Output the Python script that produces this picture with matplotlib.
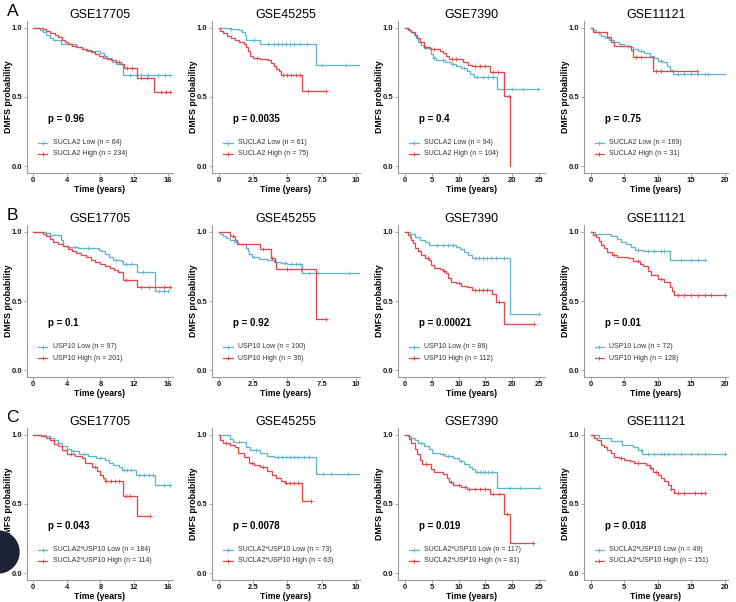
import numpy as np
import matplotlib
matplotlib.use("Agg")
import matplotlib.pyplot as plt
from matplotlib.patches import Ellipse

plt.rcParams['font.family'] = ['Liberation Sans', 'DejaVu Sans']

LOW_COLOR = '#5fb6cc'
HIGH_COLOR = '#e2474c'

# ---- panel text ----
datasets = ['GSE17705', 'GSE45255', 'GSE7390', 'GSE11121']
row_letters = ['A', 'B', 'C']
genes = ['SUCLA2', 'USP10', 'SUCLA2*USP10']
n_low = [[64, 61, 94, 169], [97, 100, 86, 72], [184, 73, 117, 49]]
n_high = [[234, 75, 104, 31], [201, 36, 112, 128], [114, 63, 81, 151]]
p_values = [['0.96', '0.0035', '0.4', '0.75'],
            ['0.1', '0.92', '0.00021', '0.01'],
            ['0.043', '0.0078', '0.019', '0.018']]
x_ticks = [[0, 4, 8, 12, 16], [0, 2.5, 5, 7.5, 10], [0, 5, 10, 15, 20, 25], [0, 5, 10, 15, 20]]
x_tick_labels = [['0', '4', '8', '12', '16'], ['0', '2.5', '5', '7.5', '10'],
                 ['0', '5', '10', '15', '20', '25'], ['0', '5', '10', '15', '20']]
x_limits = [(-0.7, 16.6), (-0.5, 10.3), (-1.3, 26.1), (-1.0, 20.5)]

# ---- KM steps: (time, survival after that time) ----
# row A: SUCLA2
a1_low = [(0, 1.0), (0.8, 0.985), (1.2, 0.97), (1.6, 0.95), (2.0, 0.93), (2.4, 0.91), (3.3, 0.885),
          (5.1, 0.865), (5.8, 0.85), (6.3, 0.83), (7.9, 0.82), (8.4, 0.80), (8.8, 0.78), (9.4, 0.755),
          (9.9, 0.74), (10.7, 0.66), (16.3, 0.66)]
a1_high = [(0, 1.0), (1.2, 0.99), (1.6, 0.975), (2.0, 0.96), (2.6, 0.95), (3.0, 0.935), (3.4, 0.915),
           (3.8, 0.90), (4.2, 0.885), (4.6, 0.87), (5.2, 0.86), (5.8, 0.85), (6.4, 0.84), (6.9, 0.825),
           (7.4, 0.81), (7.8, 0.795), (8.3, 0.785), (8.8, 0.775), (9.3, 0.765), (9.8, 0.75), (10.4, 0.74),
           (10.8, 0.71), (12.3, 0.64), (14.4, 0.535), (16.3, 0.535)]
a2_low = [(0, 1.0), (0.8, 0.995), (1.5, 0.985), (1.7, 0.97), (1.9, 0.95), (2.0, 0.915), (3.0, 0.88),
          (7.1, 0.73), (10.5, 0.73)]
a2_high = [(0, 1.0), (0.1, 0.975), (0.3, 0.96), (0.6, 0.945), (0.9, 0.93), (1.2, 0.915), (1.5, 0.895),
           (1.8, 0.88), (2.0, 0.86), (2.1, 0.83), (2.3, 0.80), (2.5, 0.78), (3.0, 0.775), (3.6, 0.765),
           (3.8, 0.745), (4.0, 0.725), (4.2, 0.705), (4.4, 0.685), (4.5, 0.66), (6.1, 0.545), (7.8, 0.545)]
a3_low = [(0, 1.0), (0.8, 0.985), (1.2, 0.97), (1.6, 0.95), (2.0, 0.93), (2.5, 0.90), (3.0, 0.875),
          (3.5, 0.855), (4.8, 0.81), (5.2, 0.785), (5.8, 0.77), (7.5, 0.755), (8.5, 0.74), (9.5, 0.725),
          (10.5, 0.71), (11.5, 0.69), (12.2, 0.67), (12.8, 0.645), (17.2, 0.56), (25.0, 0.56)]
a3_high = [(0, 1.0), (0.6, 0.985), (1.2, 0.97), (1.8, 0.95), (2.3, 0.925), (2.8, 0.895), (3.5, 0.865),
           (4.6, 0.85), (6.6, 0.835), (7.0, 0.82), (7.7, 0.80), (8.2, 0.775), (10.8, 0.755), (11.8, 0.735),
           (12.4, 0.725), (15.9, 0.68), (18.5, 0.51), (19.6, 0.0)]
a4_low = [(0, 1.0), (0.4, 0.985), (0.8, 0.97), (1.2, 0.955), (1.6, 0.94), (2.2, 0.925), (2.8, 0.915),
          (3.5, 0.90), (4.2, 0.885), (5.0, 0.87), (5.8, 0.86), (6.3, 0.845), (7.0, 0.83), (8.0, 0.82),
          (8.8, 0.80), (9.4, 0.78), (10.0, 0.76), (10.8, 0.75), (11.4, 0.725), (11.9, 0.695),
          (12.3, 0.665), (20.0, 0.665)]
a4_high = [(0, 1.0), (0.3, 0.97), (2.5, 0.935), (3.1, 0.90), (3.5, 0.87), (6.0, 0.84), (6.3, 0.79),
           (9.3, 0.69), (15.9, 0.69)]

# row B: USP10
b1_low = [(0, 1.0), (1.5, 0.99), (2.0, 0.98), (3.3, 0.94), (3.6, 0.90), (4.2, 0.89), (5.3, 0.88),
          (7.8, 0.87), (8.1, 0.86), (8.5, 0.84), (9.0, 0.82), (9.5, 0.80), (10.4, 0.79), (10.7, 0.77),
          (12.3, 0.71), (14.5, 0.575), (16.0, 0.575)]
b1_high = [(0, 1.0), (1.2, 0.985), (1.6, 0.97), (2.0, 0.95), (2.4, 0.93), (3.0, 0.915), (3.6, 0.895),
           (4.1, 0.875), (4.6, 0.86), (5.1, 0.845), (5.7, 0.83), (6.3, 0.815), (6.9, 0.80), (7.4, 0.785),
           (8.0, 0.77), (8.6, 0.755), (9.1, 0.74), (9.6, 0.725), (10.1, 0.71), (10.7, 0.65), (12.3, 0.60),
           (16.3, 0.60)]
b2_low = [(0, 1.0), (0.1, 0.985), (0.3, 0.97), (0.5, 0.955), (0.8, 0.94), (1.1, 0.925), (1.4, 0.91),
          (2.0, 0.88), (2.1, 0.86), (2.2, 0.84), (2.4, 0.82), (2.9, 0.805), (3.5, 0.795), (4.0, 0.785),
          (4.5, 0.775), (5.0, 0.765), (6.1, 0.70), (10.5, 0.70)]
b2_high = [(0, 1.0), (0.8, 0.97), (1.2, 0.94), (1.3, 0.91), (3.0, 0.875), (3.8, 0.81), (4.1, 0.78),
           (4.2, 0.735), (7.1, 0.37), (7.8, 0.37)]
b3_low = [(0, 1.0), (1.0, 0.985), (1.8, 0.965), (2.8, 0.945), (3.8, 0.925), (4.5, 0.905), (9.5, 0.89),
          (10.2, 0.875), (11.0, 0.855), (11.8, 0.835), (12.5, 0.81), (19.6, 0.405), (25.0, 0.405)]
b3_high = [(0, 1.0), (0.5, 0.98), (0.9, 0.96), (1.2, 0.94), (1.5, 0.92), (1.8, 0.885), (2.4, 0.86),
           (3.0, 0.835), (3.7, 0.81), (4.5, 0.80), (4.8, 0.76), (5.5, 0.74), (6.5, 0.73), (7.0, 0.72),
           (7.6, 0.70), (8.0, 0.665), (8.5, 0.64), (9.5, 0.63), (10.5, 0.61), (11.5, 0.60), (12.5, 0.58),
           (16.3, 0.55), (16.9, 0.49), (18.5, 0.33), (24.0, 0.33)]
b4_low = [(0, 1.0), (0.6, 0.985), (3.1, 0.97), (4.0, 0.95), (4.5, 0.93), (5.2, 0.91), (6.0, 0.89),
          (6.6, 0.87), (7.8, 0.86), (11.8, 0.80), (17.1, 0.80)]
b4_high = [(0, 1.0), (0.4, 0.98), (0.8, 0.96), (1.2, 0.935), (1.5, 0.905), (2.0, 0.88), (2.5, 0.855),
           (3.2, 0.83), (4.0, 0.82), (5.5, 0.81), (6.3, 0.79), (7.3, 0.77), (7.8, 0.75), (8.5, 0.72),
           (9.0, 0.69), (10.0, 0.66), (11.0, 0.64), (11.8, 0.60), (12.2, 0.57), (12.5, 0.545), (20.0, 0.545)]

# row C: SUCLA2*USP10
c1_low = [(0, 1.0), (1.5, 0.99), (2.0, 0.975), (2.5, 0.96), (3.0, 0.94), (3.5, 0.92), (4.0, 0.90),
          (4.5, 0.88), (5.5, 0.865), (6.5, 0.85), (7.5, 0.835), (8.5, 0.82), (9.0, 0.80), (9.5, 0.78),
          (10.2, 0.77), (10.5, 0.745), (12.2, 0.71), (14.5, 0.635), (16.3, 0.635)]
c1_high = [(0, 1.0), (1.0, 0.99), (1.5, 0.975), (2.0, 0.96), (2.5, 0.935), (3.0, 0.92), (3.5, 0.89),
           (4.0, 0.865), (5.0, 0.85), (5.8, 0.83), (6.2, 0.80), (7.0, 0.77), (7.6, 0.74), (8.0, 0.71),
           (8.3, 0.69), (8.5, 0.665), (10.7, 0.555), (12.3, 0.415), (13.9, 0.415)]
c2_low = [(0, 1.0), (0.8, 0.97), (1.0, 0.95), (2.0, 0.91), (2.3, 0.89), (3.0, 0.87), (3.5, 0.85),
          (4.0, 0.84), (7.1, 0.715), (10.5, 0.715)]
c2_high = [(0, 1.0), (0.1, 0.96), (0.3, 0.94), (0.8, 0.93), (1.2, 0.91), (1.4, 0.87), (1.8, 0.84),
           (2.2, 0.80), (2.6, 0.78), (3.0, 0.77), (3.5, 0.74), (3.9, 0.71), (4.2, 0.69), (4.5, 0.67),
           (4.8, 0.65), (6.1, 0.52), (6.7, 0.52)]
c3_low = [(0, 1.0), (0.5, 0.99), (1.2, 0.975), (1.8, 0.96), (2.5, 0.94), (3.5, 0.92), (4.5, 0.90),
          (5.0, 0.87), (6.5, 0.86), (7.5, 0.85), (9.0, 0.83), (10.0, 0.81), (11.0, 0.79), (12.0, 0.77),
          (12.5, 0.75), (13.0, 0.735), (17.1, 0.615), (25.0, 0.615)]
c3_high = [(0, 1.0), (0.8, 0.97), (1.2, 0.94), (1.8, 0.90), (2.2, 0.86), (2.8, 0.82), (3.2, 0.79),
           (4.8, 0.75), (5.5, 0.73), (7.0, 0.72), (7.8, 0.69), (8.2, 0.66), (9.0, 0.64), (10.5, 0.62),
           (11.5, 0.61), (15.8, 0.575), (18.5, 0.425), (19.6, 0.215), (23.9, 0.215)]
c4_low = [(0, 1.0), (1.2, 0.975), (3.0, 0.955), (4.7, 0.93), (6.3, 0.91), (7.0, 0.89), (7.7, 0.86),
          (20.0, 0.86)]
c4_high = [(0, 1.0), (0.5, 0.98), (1.0, 0.96), (1.5, 0.93), (2.0, 0.91), (2.5, 0.89), (3.0, 0.87),
           (3.5, 0.84), (4.2, 0.83), (5.0, 0.82), (5.8, 0.81), (6.5, 0.80), (8.0, 0.795), (8.3, 0.78),
           (8.8, 0.76), (9.3, 0.73), (10.0, 0.71), (10.5, 0.69), (11.0, 0.67), (11.5, 0.64), (12.0, 0.61),
           (12.5, 0.58), (17.0, 0.58)]

# censor times (years)
a1_low_cens = [8.6, 11.5, 12.8, 13.6, 14.8, 15.6, 16.3]
a1_high_cens = [10.2, 11.2, 11.8, 12.8, 13.5, 15.2, 15.8, 16.2]
a2_low_cens = [0.9, 2.6, 3.6, 4.0, 4.3, 4.6, 4.9, 5.2, 5.5, 5.9, 6.4, 7.5, 9.3]
a2_high_cens = [2.8, 4.7, 5.0, 5.3, 5.6, 5.9, 6.5, 7.8]
a3_low_cens = [5.5, 7.0, 9.0, 11.0, 13.5, 14.5, 15.5, 16.5, 18.5, 20.0, 22.0, 24.8]
a3_high_cens = [3.8, 5.5, 8.8, 9.5, 13.0, 14.0, 15.0, 16.5, 17.3, 19.3]
a4_low_cens = [5.5, 7.5, 10.5, 13.0, 14.0, 15.0, 16.0, 17.0, 17.5]
a4_high_cens = [6.8, 7.5, 9.8, 10.5, 15.9]
b1_low_cens = [5.0, 6.5, 9.8, 11.0, 11.6, 13.0, 15.0, 15.5, 16.0]
b1_high_cens = [11.0, 12.8, 13.8, 15.5, 16.3]
b2_low_cens = [2.6, 4.2, 4.8, 5.3, 5.6, 5.9, 6.6, 7.2, 9.5]
b2_high_cens = [1.0, 3.2, 3.9, 5.0, 6.0, 7.8]
b3_low_cens = [6.0, 7.0, 8.0, 9.0, 13.0, 13.8, 14.5, 15.2, 16.0, 17.0, 18.5, 25.0]
b3_high_cens = [4.2, 7.3, 10.0, 13.0, 13.8, 14.6, 15.2, 17.5, 24.0]
b4_low_cens = [7.0, 8.5, 9.5, 10.5, 11.0, 13.5, 15.0, 16.0, 17.1]
b4_high_cens = [3.5, 7.0, 10.5, 13.0, 14.0, 15.0, 16.0, 17.0, 18.0, 20.0]
c1_low_cens = [4.8, 6.0, 8.0, 10.8, 11.2, 11.6, 12.6, 13.2, 13.8, 14.2, 15.5, 16.3]
c1_high_cens = [4.5, 7.3, 8.7, 9.2, 9.7, 10.2, 11.0, 11.5, 13.9]
c2_low_cens = [1.5, 2.7, 4.3, 4.6, 4.9, 5.2, 5.5, 5.8, 6.2, 6.6, 7.6, 8.2, 9.4]
c2_high_cens = [0.5, 2.4, 3.2, 4.9, 5.2, 5.5, 5.8, 6.7]
c3_low_cens = [3.0, 7.0, 8.0, 10.5, 13.5, 14.0, 14.5, 15.0, 15.5, 16.2, 19.5, 21.5, 25.0]
c3_high_cens = [4.0, 8.5, 10.0, 11.2, 12.0, 13.0, 14.0, 15.0, 16.5, 17.5, 19.0, 23.9]
c4_low_cens = [7.5, 8.5, 9.5, 10.5, 11.0, 11.5, 12.5, 13.5, 15.0, 16.0, 17.0, 20.0]
c4_high_cens = [4.5, 7.0, 9.0, 9.8, 12.0, 13.0, 14.0, 15.5, 16.5, 17.0]

curves = [[(a1_low, a1_high), (a2_low, a2_high), (a3_low, a3_high), (a4_low, a4_high)],
          [(b1_low, b1_high), (b2_low, b2_high), (b3_low, b3_high), (b4_low, b4_high)],
          [(c1_low, c1_high), (c2_low, c2_high), (c3_low, c3_high), (c4_low, c4_high)]]
censors = [[(a1_low_cens, a1_high_cens), (a2_low_cens, a2_high_cens), (a3_low_cens, a3_high_cens), (a4_low_cens, a4_high_cens)],
           [(b1_low_cens, b1_high_cens), (b2_low_cens, b2_high_cens), (b3_low_cens, b3_high_cens), (b4_low_cens, b4_high_cens)],
           [(c1_low_cens, c1_high_cens), (c2_low_cens, c2_high_cens), (c3_low_cens, c3_high_cens), (c4_low_cens, c4_high_cens)]]

# layout in pixels of the 736x602 canvas
W, H = 736, 602
col_px = [(27, 173), (212, 360), (398, 545), (584, 728)]
row_px = [(21, 173), (225, 377), (428, 580)]


def draw_km(ax, steps, cens, color):
    t = np.array([p[0] for p in steps])
    s = np.array([p[1] for p in steps])
    ax.plot(t, s, drawstyle='steps-post', color=color, lw=0.95, solid_joinstyle='miter')
    ct = np.array(cens)
    idx = np.searchsorted(t, ct, side='right') - 1
    ax.plot(ct, s[idx], ls='none', marker='+', ms=3, mew=0.6, color=color)


fig = plt.figure(figsize=(W / 100, H / 100), dpi=100)

for r in range(3):
    top, bot = row_px[r]
    for c in range(4):
        left, right = col_px[c]
        ax = fig.add_axes([left / W, 1 - bot / H, (right - left) / W, (bot - top) / H])
        low, high = curves[r][c]
        low_c, high_c = censors[r][c]
        draw_km(ax, low, low_c, LOW_COLOR)
        draw_km(ax, high, high_c, HIGH_COLOR)

        ax.set_xlim(*x_limits[c])
        ax.set_ylim(-0.05, 1.05)
        ax.set_xticks(x_ticks[c])
        ax.set_xticklabels(x_tick_labels[c])
        ax.set_yticks([0, 0.5, 1.0])
        ax.set_yticklabels(['0.0', '0.5', '1.0'])
        for side in ['top', 'right']:
            ax.spines[side].set_visible(False)
        for side in ['left', 'bottom']:
            ax.spines[side].set_color('#9a9a9a')
            ax.spines[side].set_linewidth(0.8)
        ax.tick_params(length=2, width=0.6, color='#9a9a9a', pad=1.2,
                       labelsize=5.5, labelcolor='#1a1a1a')
        for lab in ax.get_xticklabels() + ax.get_yticklabels():
            lab.set_fontweight('bold')
        ax.set_xlabel('Time (years)', fontsize=6.2, fontweight='bold', labelpad=0.3)
        ax.set_ylabel('DMFS probability', fontsize=6.3, fontweight='bold')
        ax.yaxis.set_label_coords(-0.097, 0.5)

        ax.set_title(datasets[c], fontsize=9, pad=1.5)

        ax.text(0.144, 0.355, 'p = ' + p_values[r][c], transform=ax.transAxes,
                fontsize=7.0, fontweight='bold', va='center', ha='left')

        # legend drawn by hand, two rows
        for lab, col, yy in [(f'{genes[r]} Low (n = {n_low[r][c]})', LOW_COLOR, 0.20),
                             (f'{genes[r]} High (n = {n_high[r][c]})', HIGH_COLOR, 0.125)]:
            ax.plot([0.075, 0.14], [yy, yy], transform=ax.transAxes, color=col, lw=0.9)
            ax.plot([0.1075], [yy], transform=ax.transAxes, marker='+', ms=3.5, mew=0.7, color=col)
            ax.text(0.175, yy, lab, transform=ax.transAxes, fontsize=5.0,
                    color='#333333', va='center', ha='left')

    fig.text(12.5 / W, 1 - (row_px[r][0] - 10) / H, row_letters[r], fontsize=12.5,
             ha='center', va='center')

# dark round badge at the lower left edge of the screenshot
fig.add_artist(Ellipse((-2 / W, 1 - 552 / H), 42 / W, 42 / H, transform=fig.transFigure,
                       color='#1d2336', zorder=10))

fig.savefig('out.png', dpi=100, facecolor='white')
